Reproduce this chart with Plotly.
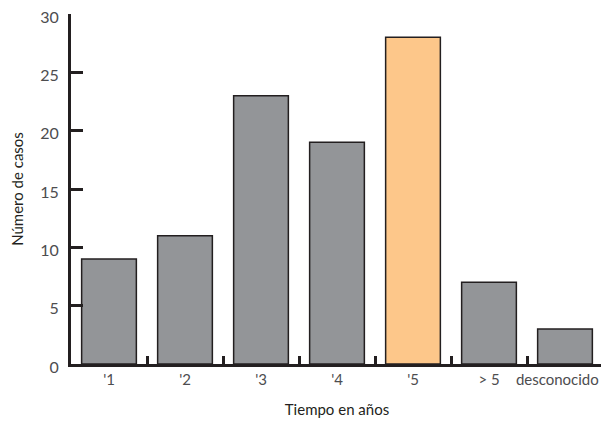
import plotly.graph_objects as go

categories = ["'1", "'2", "'3", "'4", "'5", "> 5", "desconocido"]
values = [9, 11, 23, 19, 28, 7, 3]
highlight = "'5"
# last label padded so it stays clear of the right edge, as in the original
tick_labels = ["'1", "'2", "'3", "'4", "'5", "> 5", "desconocido\u00a0\u00a0\u00a0\u00a0"]

GRAY = "#939598"
ORANGE = "#fdc78a"
DARK = "#231f20"
colors = [ORANGE if c == highlight else GRAY for c in categories]

fig = go.Figure(go.Bar(
    x=categories, y=values,
    marker=dict(color=colors, line=dict(color=DARK, width=1.5)),
))

FAM = "Lato, Open Sans, sans-serif"
font = dict(family=FAM, size=15, color=DARK)
fig.update_layout(
    width=601, height=423,
    margin=dict(l=63, r=6, t=6, b=67),
    plot_bgcolor="white", paper_bgcolor="white",
    bargap=0.28, showlegend=False, font=font,
)
fig.update_xaxes(
    type="category", showline=True, linecolor=DARK, linewidth=3,
    ticks="inside", tickson="boundaries", ticklen=8, tickwidth=3, tickcolor=DARK,
    showgrid=False, zeroline=False, tickangle=0, automargin=False,
    tickmode="array", tickvals=categories, ticktext=tick_labels,
    ticklabeloverflow="allow",
    tickfont=dict(family=FAM, size=15, color="#4d4d4f"),
    title=dict(text="Tiempo en años", standoff=18,
               font=dict(family=FAM, size=15, color=DARK)),
)
fig.update_yaxes(
    range=[0, 30], tickvals=[0, 5, 10, 15, 20, 25, 30],
    showline=True, linecolor=DARK, linewidth=3,
    ticks="inside", ticklen=12, tickwidth=3, tickcolor=DARK,
    showgrid=False, zeroline=False, automargin=False,
    ticklabeloverflow="allow",
    tickfont=dict(family=FAM, size=16, color="#4d4d4f"),
    ticklabelstandoff=6, ticklabelshift=3,
    title=dict(text="Número de casos", standoff=22,
               font=dict(family=FAM, size=15, color=DARK)),
)

fig.write_html("out.html")
